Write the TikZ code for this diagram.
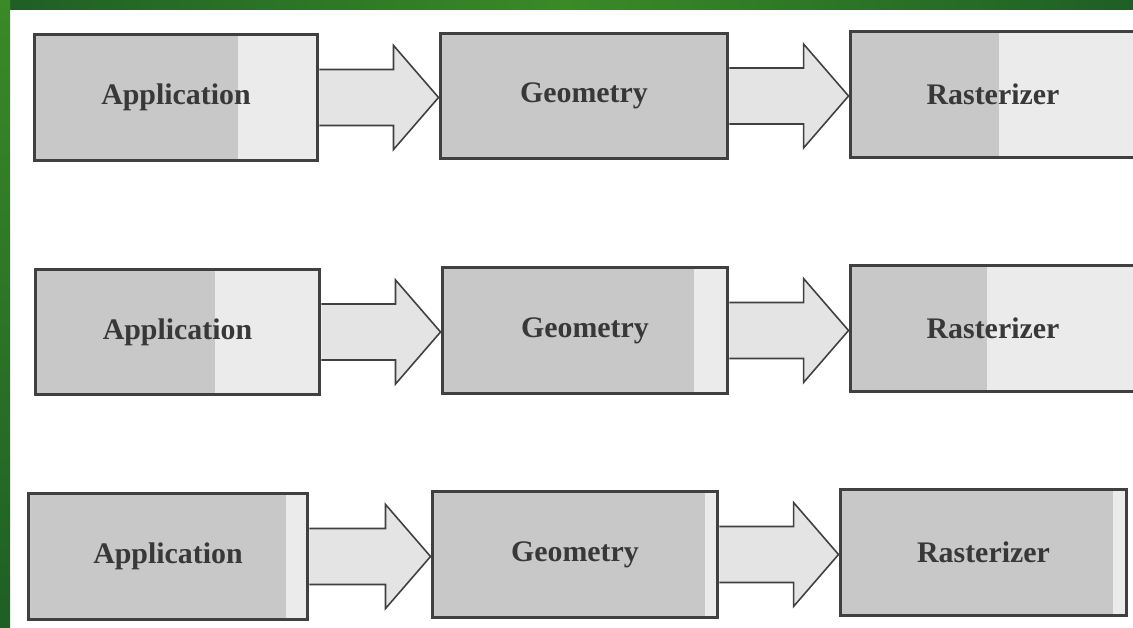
\documentclass[tikz,border=0pt]{standalone}
\usepackage{fontspec}
\setmainfont{Liberation Serif}
\usetikzlibrary{calc}
\definecolor{framedark}{HTML}{1E5F25}
\definecolor{framelite}{HTML}{3A8A27}
\definecolor{boxedge}{HTML}{404040}
\definecolor{loaddark}{HTML}{C8C8C8}
\definecolor{loadlight}{HTML}{EBEBEB}
\definecolor{pipefill}{HTML}{E4E4E4}
\definecolor{labelink}{HTML}{383838}

% block arrow from the east side of #1 to the west side of #2
\newcommand{\flowarrow}[2]{%
  \coordinate (tip) at (#1.east -| #2.west);
  \draw[flow] ($(#1.east)+(0,-28)$) -- ($(tip)+(-45,-28)$) -- ($(tip)+(-45,-52)$) -- (tip)
    -- ($(tip)+(-45,52)$) -- ($(tip)+(-45,28)$) -- ($(#1.east)+(0,28)$);}

\begin{document}
\begin{tikzpicture}[x=0.02cm,y=-0.02cm,
stage/.style={draw=boxedge,line width=1.7pt,fill=loadlight,inner sep=0pt,minimum width=5.72cm,minimum height=2.52cm,font=\bfseries\fontsize{17}{20}\selectfont,text=labelink},
load/.style={path picture={\fill[loaddark] (path picture bounding box.north west) rectangle ($(path picture bounding box.south west)!#1!(path picture bounding box.south east)$);}},
flow/.style={draw=boxedge,line width=0.9pt,fill=pipefill,line join=miter}]
\clip (0,0) rectangle (1133,628);
\fill[white] (0,0) rectangle (1133,628);
% green frame
\shade[left color=framedark,right color=framedark,middle color=framelite] (0,0) rectangle (1133,10);
\shade[top color=framelite,bottom color=framedark] (0,0) rectangle (10,628);
% first pipeline
\node[stage,load=0.72,minimum width=5.68cm] (app1) at (176,97.5) {Application};
\node[stage,load=1,minimum width=5.76cm] (geo1) at (584,96) {Geometry};
\node[stage,load=0.52] (ras1) at (993,94.5) {Rasterizer};
% second pipeline
\node[stage,load=0.63,minimum width=5.70cm] (app2) at (177.5,332) {Application};
\node[stage,load=0.88] (geo2) at (585,330.5) {Geometry};
\node[stage,load=0.48] (ras2) at (993,328.5) {Rasterizer};
% third pipeline
\node[stage,load=0.92,minimum width=5.60cm] (app3) at (168,556.5) {Application};
\node[stage,load=0.955] (geo3) at (575,554.5) {Geometry};
\node[stage,load=0.95,minimum width=5.74cm] (ras3) at (983.5,552.5) {Rasterizer};
\flowarrow{app1}{geo1}
\flowarrow{geo1}{ras1}
\flowarrow{app2}{geo2}
\flowarrow{geo2}{ras2}
\flowarrow{app3}{geo3}
\flowarrow{geo3}{ras3}
\end{tikzpicture}
\end{document}
